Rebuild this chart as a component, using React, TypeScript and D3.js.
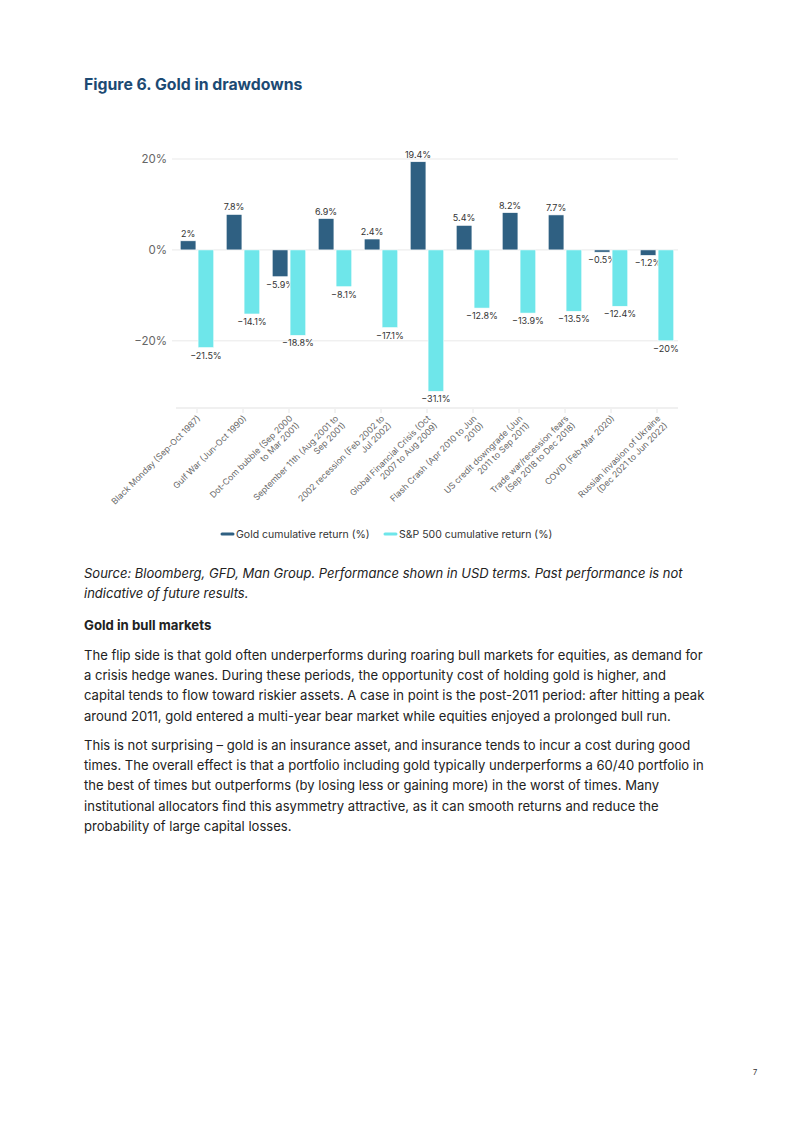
import { scaleBand, scaleLinear } from 'd3'

const categories = [
  ['Black Monday (Sep-Oct 1987)'],
  ['Gulf War (Jun-Oct 1990)'],
  ['Dot-Com bubble (Sep 2000', 'to Mar 2001)'],
  ['September 11th (Aug 2001 to', 'Sep 2001)'],
  ['2002 recession (Feb 2002 to', 'Jul 2002)'],
  ['Global Financial Crisis (Oct', '2007 to Aug 2009)'],
  ['Flash Crash (Apr 2010 to Jun', '2010)'],
  ['US credit downgrade (Jun', '2011 to Sep 2011)'],
  ['Trade war/recession fears', '(Sep 2018 to Dec 2018)'],
  ['COVID (Feb-Mar 2020)'],
  ['Russian invasion of Ukraine', '(Dec 2021 to Jun 2022)'],
]
const gold = [2, 7.8, -5.9, 6.9, 2.4, 19.4, 5.4, 8.2, 7.7, -0.5, -1.2]
const spx = [-21.5, -14.1, -18.8, -8.1, -17.1, -31.1, -12.8, -13.9, -13.5, -12.4, -20]
const yTicks = [20, 0, -20]
const seriesNames = ['Gold cumulative return (%)', 'S&P 500 cumulative return (%)']
const colors = ['#2f6082', '#6ee6ea']

const sourceLines = [
  'Source: Bloomberg, GFD, Man Group. Performance shown in USD terms. Past performance is not',
  'indicative of future results.',
]
const para1 = [
  'The flip side is that gold often underperforms during roaring bull markets for equities, as demand for',
  'a crisis hedge wanes. During these periods, the opportunity cost of holding gold is higher, and',
  'capital tends to flow toward riskier assets. A case in point is the post-2011 period: after hitting a peak',
  'around 2011, gold entered a multi-year bear market while equities enjoyed a prolonged bull run.',
]
const para2 = [
  'This is not surprising \u2013 gold is an insurance asset, and insurance tends to incur a cost during good',
  'times. The overall effect is that a portfolio including gold typically underperforms a 60/40 portfolio in',
  'the best of times but outperforms (by losing less or gaining more) in the worst of times. Many',
  'institutional allocators find this asymmetry attractive, as it can smooth returns and reduce the',
  'probability of large capital losses.',
]

const FONT = 'Inter, "Noto Sans", sans-serif'
const fmt = (v: number) => `${v}%`.replace('-', '\u2212')

export default function App() {
  const x = scaleBand<number>()
    .domain(categories.map((_, i) => i))
    .range([174, 680])
  const inner = scaleBand<number>()
    .domain([0, 1])
    .range([0, x.bandwidth()])
    .paddingInner(0.12)
    .paddingOuter(0.35)
  const y = scaleLinear().domain([-35, 20]).range([409, 159])
  const bw = inner.bandwidth()
  const series = [gold, spx]

  return (
    <svg
      width={792}
      height={1121}
      style={{ position: 'absolute', left: 0, top: 0, background: '#fff' }}
      fontFamily={FONT}
    >
      <text x={84} y={90} fontSize={15.8} fontWeight={700} fill="#1c4a73">
        Figure 6. Gold in drawdowns
      </text>

      {/* grid */}
      {yTicks.map((t) => (
        <g key={t}>
          <line x1={172} x2={678} y1={y(t)} y2={y(t)} stroke="#e9e9e9" strokeWidth={1} />
          <text x={167} y={y(t) + 4} fontSize={11.5} fill="#666" textAnchor="end">
            {fmt(t)}
          </text>
        </g>
      ))}
      <line x1={176} x2={678} y1={y(-35) - 1} y2={y(-35) - 1} stroke="#ebebeb" strokeWidth={1.5} />

      {/* bars */}
      {series.map((vals, s) =>
        vals.map((v, i) => {
          const bx = (x(i) ?? 0) + (inner(s) ?? 0)
          const top = Math.min(y(v), y(0))
          const h = Math.abs(y(v) - y(0))
          const cx = bx + bw / 2
          return (
            <g key={`${s}-${i}`}>
              <rect x={bx} y={top} width={bw} height={h} fill={colors[s]} stroke="#fff" strokeWidth={0.6} />
              <text
                x={cx}
                y={v >= 0 ? y(v) - 4 : y(v) + 11}
                fontSize={9}
                fill="#333"
                textAnchor="middle"
              >
                {fmt(v)}
              </text>
            </g>
          )
        })
      )}

      {/* x labels */}
      {categories.map((lines, i) => {
        const cx = (x(i) ?? 0) + x.bandwidth() / 2
        return (
          <g key={i}>
            <line x1={cx} x2={cx} y1={y(-35)} y2={y(-35) + 4} stroke="#e6e6e6" />
            <g transform={`translate(${cx + 4},${y(-35) + 10}) rotate(-45)`}>
              {lines.map((l, k) => (
                <text key={k} x={0} y={k * 10} fontSize={8.6} fill="#666" textAnchor="end">
                  {l}
                </text>
              ))}
            </g>
          </g>
        )
      })}

      {/* legend */}
      <g transform="translate(222,534)">
        <line x1={0} x2={11} y1={0} y2={0} stroke={colors[0]} strokeWidth={3} strokeLinecap="round" />
        <text x={14} y={4} fontSize={10.5} fill="#333">
          {seriesNames[0]}
        </text>
        <line x1={163} x2={174} y1={0} y2={0} stroke={colors[1]} strokeWidth={3} strokeLinecap="round" />
        <text x={177} y={4} fontSize={10.5} fill="#333">
          {seriesNames[1]}
        </text>
      </g>

      {/* text below */}
      {sourceLines.map((l, i) => (
        <text key={i} x={84} y={578 + i * 20} fontSize={13} fontStyle="italic" fill="#222">
          {l}
        </text>
      ))}
      <text x={84} y={630} fontSize={13.2} fontWeight={700} fill="#222">
        Gold in bull markets
      </text>
      {para1.map((l, i) => (
        <text key={i} x={84} y={660 + i * 20.2} fontSize={13.07} fill="#222">
          {l}
        </text>
      ))}
      {para2.map((l, i) => (
        <text key={i} x={84} y={750 + i * 20.2} fontSize={13.07} fill="#222">
          {l}
        </text>
      ))}
      <text x={753} y={1075} fontSize={7.5} fill="#333">
        7
      </text>
    </svg>
  )
}
